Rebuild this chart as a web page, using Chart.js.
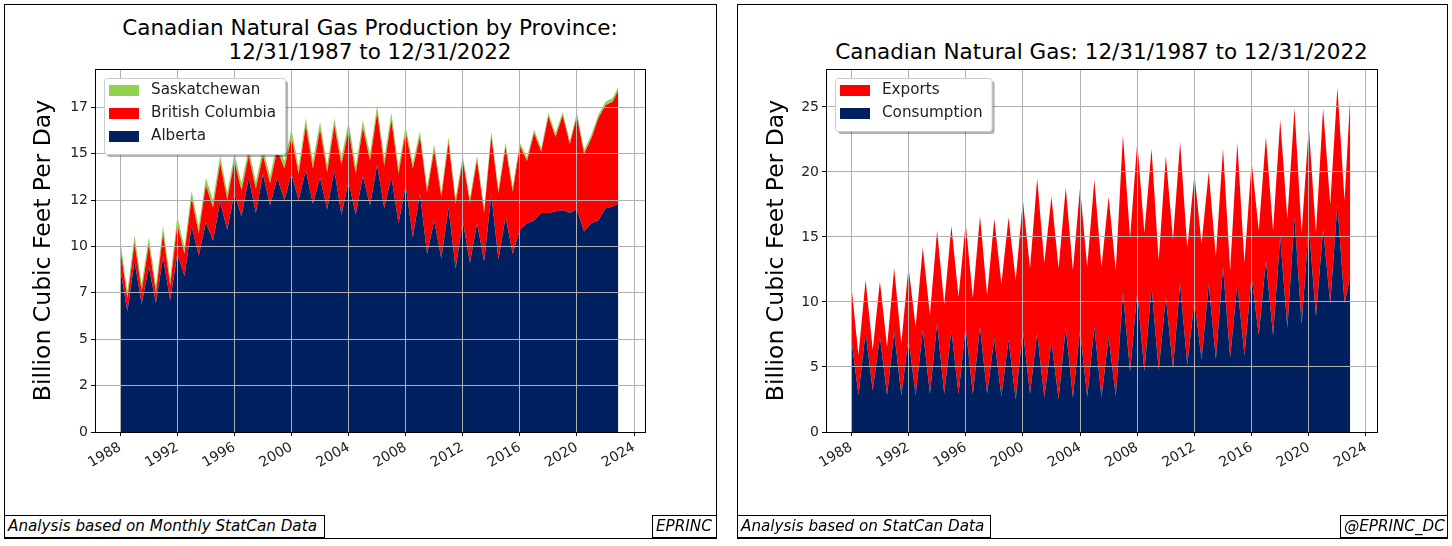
<!DOCTYPE html>
<html>
<head>
<meta charset="utf-8">
<script src="https://cdn.jsdelivr.net/npm/chart.js@4.4.0/dist/chart.umd.min.js"></script>
<style>
  body { margin: 0; background: #fff; width: 1452px; height: 546px; position: relative; overflow: hidden; font-family: "DejaVu Sans", sans-serif; }
  .panel { position: absolute; border: 1px solid #000; box-sizing: border-box; }
  canvas { position: absolute; }
  .title { position: absolute; text-align: center; font-size: 21.5px; line-height: 24px; color: #000; white-space: nowrap; }
  .note { position: absolute; border: 1px solid #000; box-sizing: border-box; height: 23px; font-size: 15.2px; font-style: italic; line-height: 21px; padding-left: 3px; background: #fff; white-space: nowrap; overflow: hidden; }
</style>
</head>
<body>
<div class="panel" style="left:4px;top:4px;width:713px;height:535px"></div>
<div class="panel" style="left:737px;top:4px;width:711px;height:535px"></div>

<div class="title" style="left:95px;top:16px;width:550px">Canadian Natural Gas Production by Province:<br>12/31/1987 to 12/31/2022</div>
<div class="title" style="left:826px;top:40px;width:551px">Canadian Natural Gas: 12/31/1987 to 12/31/2022</div>

<canvas id="prodChart" width="710" height="532" style="left:5px;top:5px"></canvas>
<canvas id="gasChart" width="708" height="532" style="left:738px;top:5px"></canvas>

<div class="note" style="left:4px;top:515px;width:321px">Analysis based on Monthly StatCan Data</div>
<div class="note" style="left:652px;top:515px;width:65px">EPRINC</div>
<div class="note" style="left:737px;top:515px;width:254px">Analysis based on StatCan Data</div>
<div class="note" style="left:1340px;top:515px;width:108px">@EPRINC_DC</div>

<script>
// tijdas: januari en juli van elk jaar (decimale jaren)
const years = [1988, 1988.5, 1989, 1989.5, 1990, 1990.5, 1991, 1991.5, 1992, 1992.5,
  1993, 1993.5, 1994, 1994.5, 1995, 1995.5, 1996, 1996.5, 1997, 1997.5,
  1998, 1998.5, 1999, 1999.5, 2000, 2000.5, 2001, 2001.5, 2002, 2002.5,
  2003, 2003.5, 2004, 2004.5, 2005, 2005.5, 2006, 2006.5, 2007, 2007.5,
  2008, 2008.5, 2009, 2009.5, 2010, 2010.5, 2011, 2011.5, 2012, 2012.5,
  2013, 2013.5, 2014, 2014.5, 2015, 2015.5, 2016, 2016.5, 2017, 2017.5,
  2018, 2018.5, 2019, 2019.5, 2020, 2020.5, 2021, 2021.5, 2022, 2022.5, 2022.9];

// productie per provincie (Bcf/d)
const alberta = [8.8, 6.5, 9.2, 6.9, 8.9, 6.95, 9.4, 7.1, 9.6, 8.4,
  11.1, 9.5, 11.3, 10.3, 12.4, 10.9, 12.9, 11.6, 13.7, 11.8,
  13.9, 12.2, 13.7, 12.5, 13.9, 12.5, 14.1, 12.3, 13.7, 12.0,
  14.1, 11.7, 13.5, 11.7, 13.8, 12.2, 14.4, 12.05, 13.75, 11.25,
  13.3, 10.5, 12.85, 9.6, 11.4, 9.35, 12.1, 8.8, 11.4, 9.1,
  11.25, 9.2, 12.8, 9.3, 11.6, 9.6, 10.9, 11.25, 11.4, 11.8,
  11.8, 11.9, 11.95, 11.8, 12.0, 10.8, 11.25, 11.4, 12.05, 12.15, 12.3];
const britishColumbia = [1.1, 0.7, 1.0, 0.7, 1.2, 0.55, 1.3, 0.8, 1.6, 1.2,
  1.5, 1.2, 2.0, 1.8, 2.1, 1.6, 1.7, 1.4, 1.2, 1.3,
  1.0, 1.2, 1.5, 1.7, 2.0, 1.4, 2.4, 1.9, 2.6, 2.0,
  2.4, 2.7, 2.8, 2.2, 2.6, 2.4, 2.8, 2.3, 3.05, 2.65,
  2.85, 3.7, 3.05, 3.3, 3.8, 3.3, 3.5, 3.5, 3.25, 3.25,
  3.4, 2.6, 3.15, 3.55, 3.75, 3.35, 4.5, 3.35, 4.7, 3.3,
  5.2, 4.0, 5.1, 3.7, 5.0, 4.2, 4.55, 5.5, 5.55, 5.65, 6.1];
const saskatchewan = [0.4, 0.4, 0.4, 0.4, 0.4, 0.4, 0.4, 0.4, 0.4, 0.4,
  0.4, 0.4, 0.4, 0.4, 0.4, 0.4, 0.4, 0.4, 0.4, 0.4,
  0.4, 0.4, 0.4, 0.4, 0.4, 0.4, 0.4, 0.4, 0.4, 0.4,
  0.4, 0.4, 0.4, 0.4, 0.4, 0.4, 0.4, 0.4, 0.4, 0.4,
  0.3, 0.3, 0.3, 0.3, 0.3, 0.3, 0.3, 0.3, 0.25, 0.25,
  0.25, 0.25, 0.25, 0.25, 0.25, 0.25, 0.2, 0.2, 0.2, 0.2,
  0.2, 0.2, 0.2, 0.2, 0.2, 0.2, 0.2, 0.2, 0.2, 0.2, 0.2];

// verbruik en export (Bcf/d)
const consumption = [7.2, 2.85, 7.7, 3.2, 7.3, 2.85, 7.7, 2.8, 7.2, 2.85,
  7.85, 2.95, 8.35, 2.95, 7.85, 2.9, 8.1, 2.9, 8.1, 2.95,
  7.2, 2.75, 7.1, 2.5, 7.85, 2.95, 7.6, 2.65, 6.95, 2.55,
  8.05, 2.65, 7.85, 2.7, 8.1, 2.65, 7.3, 2.75, 10.7, 4.65,
  10.8, 4.65, 11.2, 4.75, 10.4, 4.9, 11.4, 5.15, 10.15, 5.55,
  11.4, 5.6, 12.7, 5.75, 11.4, 5.9, 11.95, 7.45, 13.2, 7.45,
  15.0, 8.0, 16.5, 8.3, 15.8, 8.9, 15.6, 9.9, 17.5, 9.9, 12.0];
const exportsGas = [4.1, 3.05, 4.0, 3.1, 4.3, 3.7, 4.9, 4.0, 5.5, 5.25,
  6.35, 6.05, 7.15, 6.85, 8.0, 7.5, 7.95, 7.4, 8.5, 7.55,
  9.2, 8.65, 9.4, 9.2, 9.95, 9.65, 11.9, 10.35, 11.15, 10.05,
  10.75, 9.8, 10.95, 10.0, 11.3, 10.05, 10.8, 9.7, 12.15, 10.25,
  11.5, 10.65, 10.6, 8.45, 10.8, 9.9, 10.9, 9.0, 9.65, 8.95,
  8.6, 7.9, 9.1, 6.7, 10.85, 7.1, 8.85, 8.05, 9.5, 8.05,
  9.0, 8.4, 8.4, 7.0, 7.7, 6.4, 9.3, 7.6, 9.0, 7.9, 13.8];

// as-labels
const xTicks = [1988, 1992, 1996, 2000, 2004, 2008, 2012, 2016, 2020, 2024];
const prodTicks = [0, 2.5, 5, 7.5, 10, 12.5, 15, 17.5];
const prodTickLabels = ['0', '2', '5', '7', '10', '12', '15', '17'];
const gasTicks = [0, 5, 10, 15, 20, 25];
const gasTickLabels = ['0', '5', '10', '15', '20', '25'];

const navy = '#002060';
const red = '#ff0000';
const green = '#92d050';
const fontFam = '"DejaVu Sans", sans-serif';

function points(arr) {
  return years.map((x, i) => ({ x: x, y: arr[i] }));
}

// legenda binnen het plotvlak, met kader en schaduw
const boxLegend = {
  id: 'boxLegend',
  afterDraw(chart) {
    const ctx = chart.ctx;
    const a = chart.chartArea;
    // frame om plotvlak
    ctx.save();
    ctx.strokeStyle = '#000';
    ctx.lineWidth = 1;
    ctx.strokeRect(Math.round(a.left) + 0.5, Math.round(a.top) + 0.5, Math.round(a.right - a.left), Math.round(a.bottom - a.top));

    const items = chart.data.datasets.slice().reverse();
    ctx.font = '15.2px ' + fontFam;
    let textW = 0;
    items.forEach(d => { textW = Math.max(textW, ctx.measureText(d.label).width); });
    const x = a.left + 9, y = a.top + 9;
    const w = 47 + textW + 9, h = items.length * 23 + 7;

    ctx.fillStyle = 'rgba(0,0,0,0.3)';
    ctx.beginPath();
    ctx.roundRect(x + 3, y + 3, w, h, 3);
    ctx.fill();
    ctx.fillStyle = '#fff';
    ctx.strokeStyle = '#cccccc';
    ctx.beginPath();
    ctx.roundRect(x + 0.5, y + 0.5, w, h, 3);
    ctx.fill();
    ctx.stroke();

    ctx.textBaseline = 'middle';
    items.forEach((d, i) => {
      const cy = y + 12 + i * 23;
      ctx.fillStyle = d.backgroundColor;
      ctx.fillRect(x + 5, cy - 5, 30, 11);
      ctx.fillStyle = '#222';
      ctx.fillText(d.label, x + 47, cy);
    });
    ctx.restore();
  }
};

function makeChart(el, datasets, yMax, yTicks, yLabels, yAxisW, padRight) {
  return new Chart(el, {
    type: 'line',
    data: { datasets: datasets },
    options: {
      responsive: false,
      animation: false,
      layout: { padding: { top: 64, right: padRight, left: 0, bottom: 0 } },
      elements: { point: { radius: 0 }, line: { borderWidth: 0, tension: 0 } },
      plugins: { legend: { display: false }, tooltip: { enabled: false } },
      scales: {
        x: {
          type: 'linear',
          min: 1986.23,
          max: 2024.77,
          border: { display: false },
          grid: { color: '#b0b0b0', lineWidth: 1, tickColor: '#000', tickLength: 4, z: 1 },
          ticks: {
            color: '#222',
            font: { family: fontFam, size: 14 },
            minRotation: 30,
            maxRotation: 30,
            autoSkip: false,
            padding: 3,
            callback: v => String(v)
          },
          afterBuildTicks: s => { s.ticks = xTicks.map(v => ({ value: v })); },
          afterFit: s => { s.height = 105; }
        },
        y: {
          type: 'linear',
          stacked: true,
          min: 0,
          max: yMax,
          border: { display: false },
          grid: { color: '#b0b0b0', lineWidth: 1, tickColor: '#000', tickLength: 4, z: 1 },
          ticks: {
            color: '#222',
            font: { family: fontFam, size: 14 },
            padding: 3,
            callback: (v, i) => yLabels[i]
          },
          afterBuildTicks: s => { s.ticks = yTicks.map(v => ({ value: v })); },
          afterFit: s => { s.width = yAxisW; },
          title: {
            display: true,
            text: 'Billion Cubic Feet Per Day',
            color: '#000',
            font: { family: fontFam, size: 23.5 },
            padding: { top: 25, bottom: 0 }
          }
        }
      }
    },
    plugins: [boxLegend]
  });
}

makeChart(document.getElementById('prodChart'), [
  { label: 'Alberta', data: points(alberta), backgroundColor: navy, fill: 'origin' },
  { label: 'British Columbia', data: points(britishColumbia), backgroundColor: red, fill: '-1' },
  { label: 'Saskatchewan', data: points(saskatchewan), backgroundColor: green, fill: '-1' }
], 19.56, prodTicks, prodTickLabels, 90, 70);

makeChart(document.getElementById('gasChart'), [
  { label: 'Consumption', data: points(consumption), backgroundColor: navy, fill: 'origin' },
  { label: 'Exports', data: points(exportsGas), backgroundColor: red, fill: '-1' }
], 27.92, gasTicks, gasTickLabels, 88, 69);
</script>
</body>
</html>
